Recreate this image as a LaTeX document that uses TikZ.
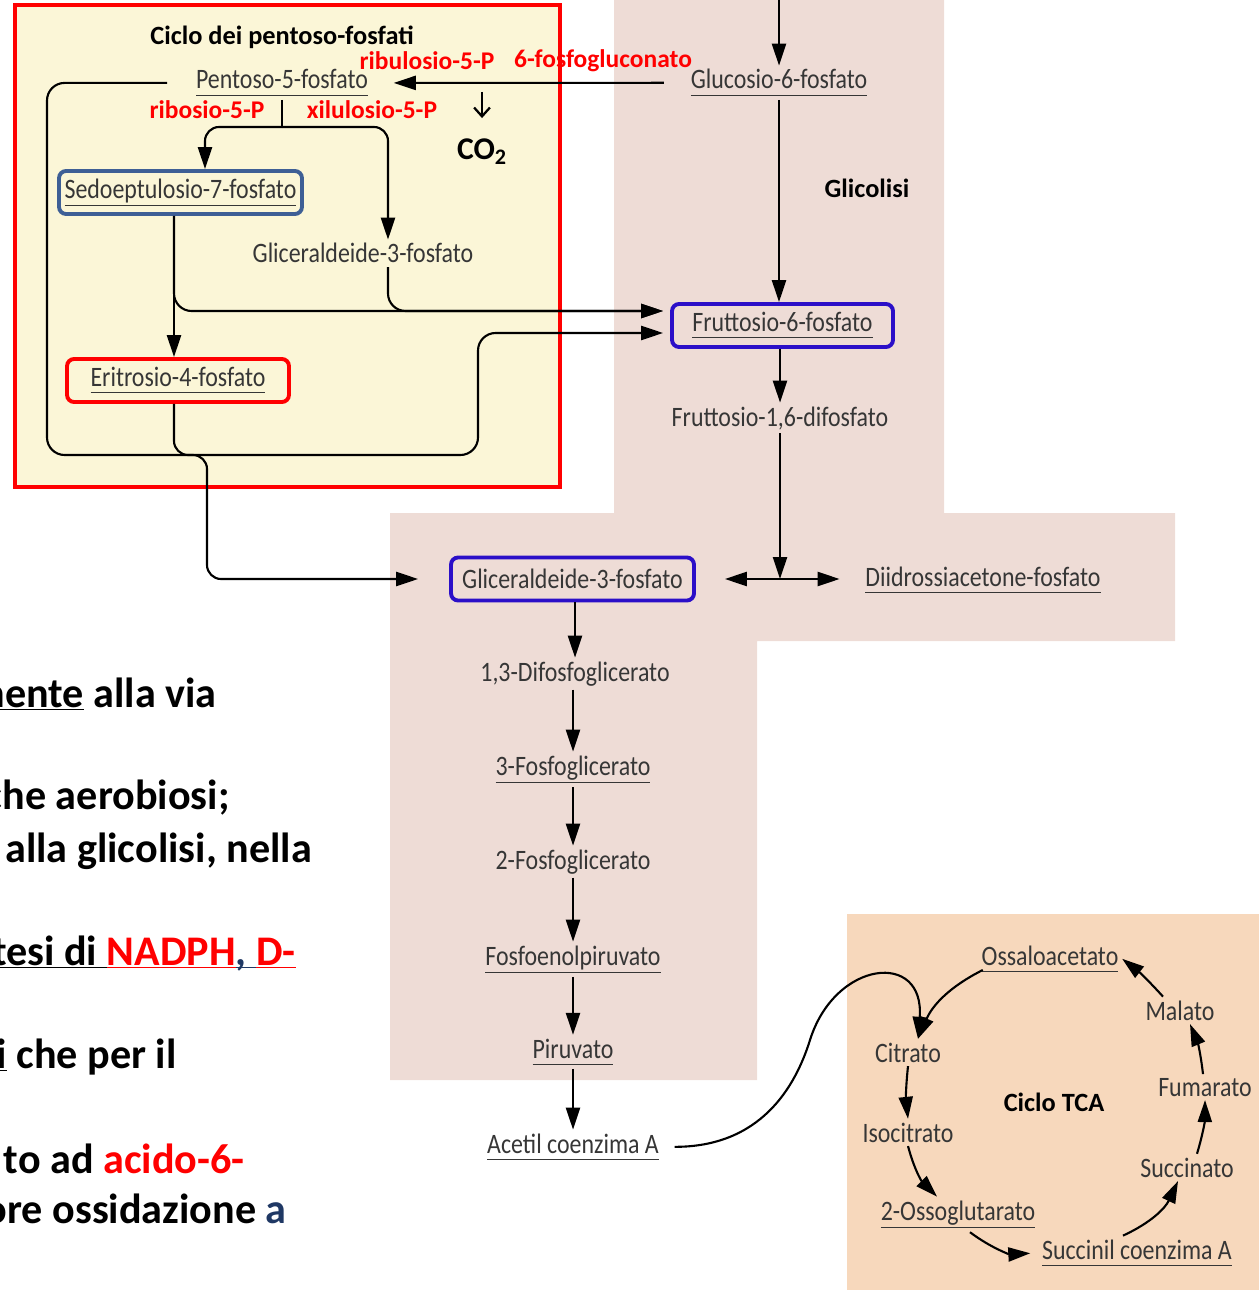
\documentclass[tikz,border=0pt]{standalone}
\usepackage{fontspec}
\setmainfont{Carlito}
\newfontfamily\labfont{Carlito}[FakeStretch=0.85]
\usetikzlibrary{arrows.meta}
\definecolor{glyco}{HTML}{EEDCD6}
\definecolor{ppp}{HTML}{FBF6D7}
\definecolor{tca}{HTML}{F7D8BC}
\definecolor{pathred}{HTML}{FF0000}
\definecolor{boxblue}{HTML}{2B0FC8}
\definecolor{steel}{HTML}{3E5F95}
\definecolor{labgray}{HTML}{363636}
\definecolor{navy}{HTML}{1F3864}
\newcommand{\undl}[1]{\underline{#1\vphantom{,}}}
\tikzset{
  lab/.style={text=labgray, font=\labfont\fontsize{16}{18}\selectfont, anchor=base, inner sep=2pt},
  head/.style={font=\bfseries\fontsize{15}{18}\selectfont, anchor=base},
  redlab/.style={text=pathred, font=\bfseries\fontsize{14.5}{17}\selectfont, anchor=base},
  bigtxt/.style={font=\bfseries\fontsize{24}{28}\selectfont, anchor=base east, inner sep=0pt},
  pbox/.style={draw=#1, line width=2.2pt, rounded corners=4pt, anchor=center, minimum height=0.86cm, inner sep=0pt},
  conn/.style={draw=black, line width=1.2pt},
  arr/.style={conn, -{Triangle[length=12.5pt,width=8pt]}},
  dbl/.style={conn, {Triangle[length=12.5pt,width=8pt]}-{Triangle[length=12.5pt,width=8pt]}},
  barb/.style={draw=black, line width=1.3pt, -{Straight Barb[length=5pt,width=9pt]}},
}

\begin{document}
\begin{tikzpicture}[x=0.02cm, y=-0.02cm]
  \useasboundingbox (0,0) rectangle (1259,1290);
  \clip (0,0) rectangle (1259,1290);

  \fill[glyco] (614,0) -- (944,0) -- (944,513) -- (1175,513) -- (1175,641) -- (757,641)
    -- (757,1080) -- (390,1080) -- (390,513) -- (614,513) -- cycle;
  \fill[tca] (847,914) rectangle (1259,1290);
  \draw[draw=pathred, line width=2.4pt, fill=ppp] (15,5) rectangle (560,487);

  % glicolisi
  \coordinate (in) at (779,0);
  \node[lab] (g6p) at (779,89) {\undl{Glucosio-6-fosfato}};
  \node[lab, pbox=boxblue, minimum width=4.42cm] (f6p) at (782.5,325.5) {\undl{Fruttosio-6-fosfato}};
  \node[lab] (f16) at (780,426) {Fruttosio-1,6-difosfato};
  \node[lab, pbox=boxblue, minimum width=4.86cm] (gap) at (572.5,579) {Gliceraldeide-3-fosfato};
  \node[lab] (dhap) at (983,586) {\undl{Diidrossiacetone-fosfato}};
  \node[lab] (dpg) at (575,681) {1,3-Difosfoglicerato};
  \node[lab] (pg3) at (573,775) {\undl{3-Fosfoglicerato}};
  \node[lab] (pg2) at (573,869) {2-Fosfoglicerato};
  \node[lab] (pep) at (573,965) {\undl{Fosfoenolpiruvato}};
  \node[lab] (pyr) at (573,1058) {\undl{Piruvato}};
  \node[lab] (aca) at (573,1153) {\undl{Acetil coenzima A}};
  \node[head] (glyc) at (867,198) {Glicolisi};

  % pentoso-fosfati
  \node[head] (pphead) at (282,45) {Ciclo dei pentoso-fosfati};
  \node[lab] (p5p) at (282,89) {\undl{Pentoso-5-fosfato}};
  \node[redlab] (ru5p) at (427,70) {ribulosio-5-P};
  \node[redlab] (pgl) at (603,68) {6-fosfogluconato};
  \node[redlab] (r5p) at (207,119) {ribosio-5-P};
  \node[redlab] (xu5p) at (372,119) {xilulosio-5-P};
  \coordinate (co2top) at (482,92);
  \node[font=\bfseries\fontsize{18}{20}\selectfont, anchor=base] (co2) at (482,160) {CO\textsubscript{2}};
  \node[lab, pbox=steel, minimum width=4.86cm] (sedo) at (180.5,192.5) {\undl{Sedoeptulosio-7-fosfato}};
  \node[lab] (g3pp) at (363,263) {Gliceraldeide-3-fosfato};
  \node[lab, pbox=pathred, minimum width=4.44cm] (eri) at (178,380.5) {\undl{Eritrosio-4-fosfato}};
  \coordinate (split) at (282,127);

  % ciclo TCA
  \node[lab] (oaa) at (1050,965) {\undl{Ossaloacetato}};
  \node[lab] (mal) at (1180,1020) {Malato};
  \node[lab] (fum) at (1205,1096) {Fumarato};
  \node[lab] (succ) at (1187,1177) {Succinato};
  \node[lab] (sca) at (1137,1259) {\undl{Succinil coenzima A}};
  \node[lab] (oxg) at (958,1220) {\undl{2-Ossoglutarato}};
  \node[lab] (iso) at (908,1142) {Isocitrato};
  \node[lab] (cit) at (908,1062) {Citrato};
  \node[head] (tcahead) at (1054,1111) {Ciclo TCA};

  % testo a sinistra
  \node[bigtxt] (t1) at (217,707) {\underline{nente} alla via};
  \node[bigtxt] (t2) at (230,809) {che aerobiosi;};
  \node[bigtxt] (t3) at (312,862) {alla glicolisi, nella};
  \node[bigtxt] (t4) at (296,965) {\underline{tesi di }\textcolor{pathred}{\underline{NADPH}}\textcolor{navy}{\underline{\smash{, }}}\textcolor{pathred}{\underline{D-}}};
  \node[bigtxt] (t5) at (177,1068) {\underline{i} che per il};
  \node[bigtxt] (t6) at (245,1173) {to ad \textcolor{pathred}{acido-6-}};
  \node[bigtxt] (t7) at (287,1223) {ore ossidazione \textcolor{navy}{a}};

  \draw[arr] (in) -- (g6p.north);
  \draw[arr] (g6p.south) -- (g6p.south |- f6p.north);
  \draw[arr] (f16.north |- f6p.south) -- (f16.north);
  \draw[arr] (f16.south) -- (f16.south |- gap.east);
  \draw[dbl, shorten <=0.58cm, shorten >=0.44cm] (gap.east) -- (dhap.west |- gap.east);
  \draw[arr] (gap.south -| dpg.north) -- (dpg.north);
  \draw[arr] (dpg.south -| pg3.north) -- (pg3.north);
  \draw[arr] (pg3.south) -- (pg2.north);
  \draw[arr] (pg2.south) -- (pep.north);
  \draw[arr] (pep.south) -- (pyr.north);
  \draw[arr] (pyr.south) -- (aca.north);

  \draw[arr, shorten <=0.46cm, shorten >=0.44cm] (g6p.west) -- (p5p.east);
  \draw[barb, shorten >=0.3cm] (co2top) -- (co2.north);
  \draw[arr, rounded corners=10pt, shorten <=0.5cm, shorten >=0.14cm] (p5p.west) -| (47,455) -| (478,333) -- ([yshift=-0.15cm]f6p.west);
  \draw[conn] (p5p.south) -- (split);
  \draw[arr, rounded corners=8pt] (split) -| ([xshift=0.49cm]sedo.north);
  \draw[arr, rounded corners=8pt] (split) -| ([xshift=0.5cm]g3pp.north);
  \draw[arr] ([xshift=-0.13cm]sedo.south) -- ([xshift=-0.13cm]sedo.south |- eri.north);
  \draw[arr, rounded corners=10pt, shorten >=0.14cm] ([xshift=-0.13cm]sedo.south) |- ([yshift=0.29cm]f6p.west);
  \draw[arr, rounded corners=10pt, shorten >=0.14cm] ([xshift=0.5cm]g3pp.south) |- ([yshift=0.29cm]f6p.west);
  \draw[arr, rounded corners=8pt, shorten >=0.62cm] ([xshift=-0.08cm]eri.south) -- (174,455) -- (207,455) -- (207,579) -- (gap.west);

  \draw[arr, shorten <=0.24cm] (aca.east) .. controls (760,1147) and (795,1088) .. (810,1040)
    .. controls (835,960) and (925,950) .. ([xshift=0.2cm]cit.north);
  \draw[arr] ([xshift=0.1cm,yshift=0.12cm]oaa.south west) to[bend right=20] ([xshift=0.2cm]cit.north);
  \draw[arr] (cit.south) to[bend right=6] (iso.north);
  \draw[arr] (iso.south) to[bend right=15] ([xshift=-0.42cm]oxg.north);
  \draw[arr, shorten >=0.16cm] ([xshift=0.24cm]oxg.south) to[bend right=20] (sca.west);
  \draw[arr] ([xshift=-0.28cm]sca.north) to[bend right=20] ([xshift=-0.18cm]succ.south);
  \draw[arr] ([xshift=0.2cm]succ.north) to[bend right=8] (fum.south);
  \draw[arr] ([xshift=-0.04cm]fum.north) to[bend right=8] ([xshift=0.2cm]mal.south);
  \draw[arr] ([xshift=-0.34cm]mal.north) to[bend right=5] (oaa.east);
\end{tikzpicture}
\end{document}
